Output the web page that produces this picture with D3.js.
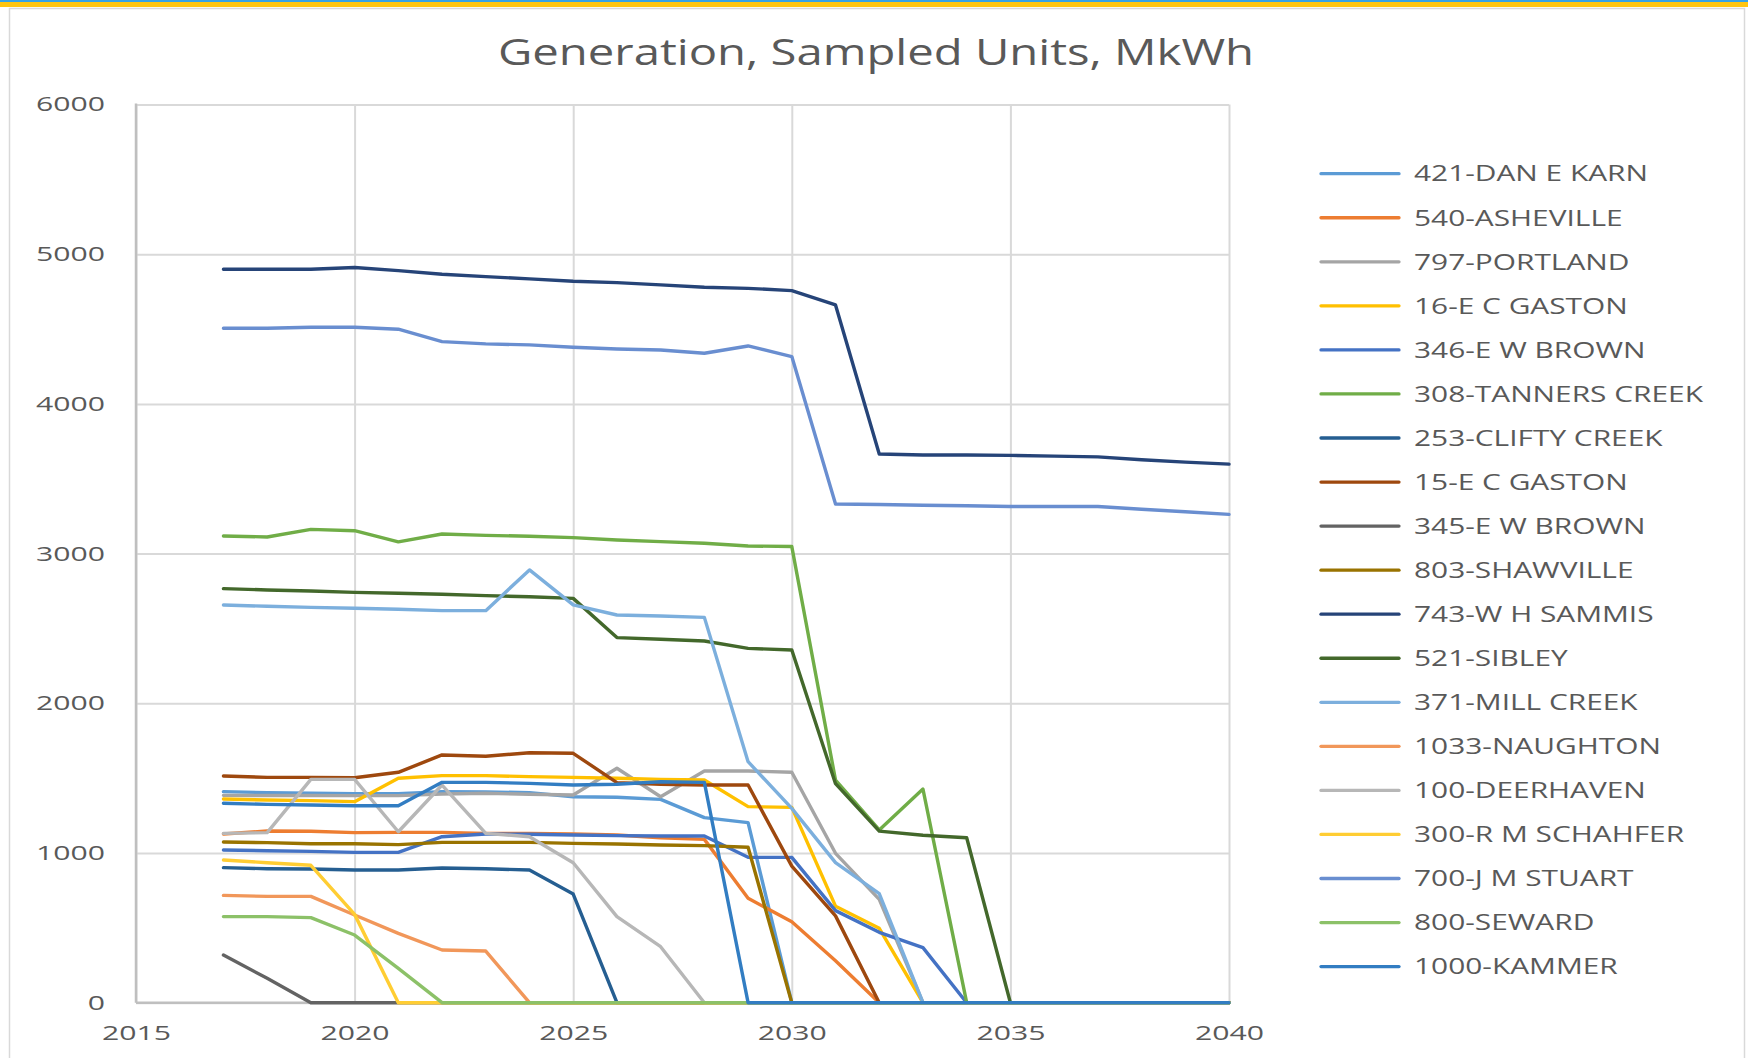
<!DOCTYPE html>
<html>
<head>
<meta charset="utf-8">
<script src="https://cdn.jsdelivr.net/npm/d3@7"></script>
<style>
  body { margin: 0; background: #fff; }
  svg { display: block; }
  text { font-family: "Open Sans", sans-serif; fill: #595959; }
</style>
</head>
<body>
<svg id="chart" width="1748" height="1058"></svg>
<script>
/* globals d3 */

const years = [2017, 2018, 2019, 2020, 2021, 2022, 2023, 2024, 2025, 2026, 2027, 2028,
  2029, 2030, 2031, 2032, 2033, 2034, 2035, 2036, 2037, 2038, 2039, 2040];
const xTicks = [2015, 2020, 2025, 2030, 2035, 2040];
const yTicks = [0, 1000, 2000, 3000, 4000, 5000, 6000];

const unitNames = [
  '421-DAN E KARN', '540-ASHEVILLE', '797-PORTLAND', '16-E C GASTON', '346-E W BROWN',
  '308-TANNERS CREEK', '253-CLIFTY CREEK', '15-E C GASTON', '345-E W BROWN', '803-SHAWVILLE',
  '743-W H SAMMIS', '521-SIBLEY', '371-MILL CREEK', '1033-NAUGHTON', '100-DEERHAVEN',
  '300-R M SCHAHFER', '700-J M STUART', '800-SEWARD', '1000-KAMMER',
];
const unitColors = [
  '#5B9BD5', '#ED7D31', '#A5A5A5', '#FFC000', '#4472C4', '#70AD47', '#255E91', '#9E480E',
  '#636363', '#997300', '#264478', '#43682B', '#7CAFDD', '#F1975A', '#B7B7B7', '#FFCD33',
  '#698ED0', '#8CC168', '#327DC2',
];

// MkWh per year, 2017 .. 2040
const danEKarn = [1410, 1403, 1399, 1396, 1396, 1410, 1408, 1403, 1376, 1372, 1358, 1236, 1203, 0, 0, 0, 0, 0, 0, 0, 0, 0, 0, 0];
const asheville = [1127, 1147, 1145, 1136, 1138, 1138, 1131, 1131, 1127, 1120, 1102, 1091, 697, 541, 280, 0, 0, 0, 0, 0, 0, 0, 0, 0];
const portland = [1385, 1384, 1384, 1383, 1383, 1394, 1399, 1392, 1387, 1566, 1376, 1548, 1548, 1539, 998, 690, 0, 0, 0, 0, 0, 0, 0, 0];
const gaston16 = [1361, 1354, 1350, 1343, 1499, 1517, 1517, 1510, 1505, 1499, 1492, 1488, 1310, 1305, 645, 497, 0, 0, 0, 0, 0, 0, 0, 0];
const ewBrown346 = [1020, 1015, 1011, 1004, 1004, 1109, 1127, 1125, 1120, 1116, 1114, 1114, 971, 971, 615, 470, 368, 0, 0, 0, 0, 0, 0, 0];
const tannersCreek = [3118, 3111, 3162, 3153, 3078, 3131, 3122, 3116, 3107, 3091, 3080, 3069, 3051, 3047, 1487, 1154, 1427, 0, 0, 0, 0, 0, 0, 0];
const cliftyCreek = [902, 895, 893, 886, 886, 900, 895, 886, 726, 0, 0, 0, 0, 0, 0, 0, 0, 0, 0, 0, 0, 0, 0, 0];
const gaston15 = [1514, 1505, 1505, 1503, 1539, 1655, 1646, 1670, 1666, 1470, 1459, 1454, 1454, 912, 580, 0, 0, 0, 0, 0, 0, 0, 0, 0];
const ewBrown345 = [318, 163, 0, 0, 0, 0, 0, 0, 0, 0, 0, 0, 0, 0, 0, 0, 0, 0, 0, 0, 0, 0, 0, 0];
const shawville = [1073, 1069, 1062, 1062, 1056, 1071, 1071, 1071, 1064, 1060, 1053, 1049, 1038, 0, 0, 0, 0, 0, 0, 0, 0, 0, 0, 0];
const sammis = [4899, 4899, 4899, 4911, 4890, 4866, 4850, 4835, 4819, 4810, 4795, 4779, 4772, 4757, 4661, 3665, 3659, 3659, 3656, 3651, 3646, 3627, 3611, 3598];
const sibley = [2766, 2757, 2750, 2741, 2735, 2728, 2719, 2712, 2701, 2439, 2428, 2416, 2367, 2356, 1463, 1146, 1119, 1102, 0, 0, 0, 0, 0, 0];
const millCreek = [2657, 2648, 2641, 2635, 2628, 2619, 2619, 2891, 2657, 2590, 2583, 2574, 1610, 1298, 936, 728, 0, 0, 0, 0, 0, 0, 0, 0];
const naughton = [717, 710, 710, 586, 463, 352, 345, 0, 0, 0, 0, 0, 0, 0, 0, 0, 0, 0, 0, 0, 0, 0, 0, 0];
const deerhaven = [1131, 1136, 1492, 1492, 1142, 1454, 1131, 1109, 935, 575, 374, 0, 0, 0, 0, 0, 0, 0, 0, 0, 0, 0, 0, 0];
const schahfer = [953, 935, 918, 590, 0, 0, 0, 0, 0, 0, 0, 0, 0, 0, 0, 0, 0, 0, 0, 0, 0, 0, 0, 0];
const stuart = [4505, 4505, 4512, 4512, 4499, 4416, 4401, 4394, 4378, 4367, 4360, 4338, 4387, 4316, 3331, 3328, 3323, 3320, 3315, 3315, 3315, 3296, 3280, 3262];
const seward = [575, 575, 568, 452, 229, 0, 0, 0, 0, 0, 0, 0, 0, 0, 0, 0, 0, 0, 0, 0, 0, 0, 0, 0];
const kammer = [1332, 1325, 1321, 1316, 1316, 1472, 1472, 1465, 1454, 1459, 1476, 1472, 0, 0, 0, 0, 0, 0, 0, 0, 0, 0, 0, 0];

const seriesValues = [
  danEKarn, asheville, portland, gaston16, ewBrown346, tannersCreek, cliftyCreek, gaston15,
  ewBrown345, shawville, sammis, sibley, millCreek, naughton, deerhaven, schahfer, stuart,
  seward, kammer,
];

const CONFIG = {
  title: 'Generation, Sampled Units, MkWh',
  plot: { left: 136, right: 1229, top: 104.5, bottom: 1002.7 },
  legend: { x: 1321, lineLength: 78, textGap: 15, top: 173.7, step: 44.05 },
  // widths of reference strings in the picture, used to stretch the text like it
  titleWidth: 756,
  tickRefWidth: 69,
  legendRefWidth: 234,
};

const stretch = (selection, refNode, refWidth) => {
  const k = refWidth / refNode.getComputedTextLength();
  selection.each(function () {
    const w = this.getComputedTextLength();
    d3.select(this).attr('textLength', w * k).attr('lengthAdjust', 'spacingAndGlyphs');
  });
};

const main = ({ title, plot, legend, titleWidth, tickRefWidth, legendRefWidth }) => {
  const svg = d3.select('#chart');
  const width = +svg.attr('width');
  const height = +svg.attr('height');

  // window frame
  svg.append('rect').attr('width', width).attr('height', height).attr('fill', '#fff');
  svg.append('rect').attr('x', 9.5).attr('y', 8.5)
    .attr('width', 1735).attr('height', height)
    .attr('fill', '#fff').attr('stroke', '#D9D9D9').attr('stroke-width', 1.5);
  svg.append('rect').attr('y', 2).attr('width', width).attr('height', 5).attr('fill', '#FFC50F');
  svg.append('rect').attr('width', width).attr('height', 2).attr('fill', '#35A2E6');

  const x = d3.scaleLinear().domain([2015, 2040]).range([plot.left, plot.right]);
  const y = d3.scaleLinear().domain([0, 6000]).range([plot.bottom, plot.top]);

  const yAxis = svg.append('g')
    .attr('transform', `translate(${plot.left},0)`)
    .call(d3.axisLeft(y).tickValues(yTicks).tickFormat(d3.format('d'))
      .tickSize(-(plot.right - plot.left)).tickPadding(31));
  const xAxis = svg.append('g')
    .attr('transform', `translate(0,${plot.bottom})`)
    .call(d3.axisBottom(x).tickValues(xTicks).tickFormat(d3.format('d'))
      .tickSize(-(plot.bottom - plot.top)).tickPadding(23.5));

  [xAxis, yAxis].forEach(g => {
    g.select('.domain').remove();
    g.selectAll('.tick line').attr('stroke', '#D9D9D9').attr('stroke-width', 2);
    g.selectAll('text').attr('font-size', 20).attr('fill', '#595959');
  });

  // axis lines
  svg.append('line')
    .attr('x1', plot.left).attr('x2', plot.left).attr('y1', plot.top - 1).attr('y2', plot.bottom)
    .attr('stroke', '#BFBFBF').attr('stroke-width', 2.5);
  svg.append('line')
    .attr('x1', plot.left).attr('x2', plot.right).attr('y1', plot.bottom).attr('y2', plot.bottom)
    .attr('stroke', '#BFBFBF').attr('stroke-width', 2.5);

  const tickRef = xAxis.selectAll('text').filter(d => d === 2020).node();
  stretch(svg.selectAll('.tick text'), tickRef, tickRefWidth);

  const line = d3.line()
    .x((d, i) => x(years[i]))
    .y(d => y(d));

  svg.append('g').attr('class', 'series')
    .selectAll('path')
    .data(seriesValues)
    .join('path')
      .attr('d', line)
      .attr('fill', 'none')
      .attr('stroke', (d, i) => unitColors[i])
      .attr('stroke-width', 3.4)
      .attr('stroke-linejoin', 'round')
      .attr('stroke-linecap', 'round');

  const titleText = svg.append('text')
    .attr('x', 876).attr('y', 65)
    .attr('text-anchor', 'middle')
    .attr('font-size', 36)
    .text(title);
  stretch(titleText, titleText.node(), titleWidth);

  const rows = svg.append('g').attr('class', 'legend')
    .selectAll('g')
    .data(unitNames)
    .join('g')
      .attr('transform', (d, i) => `translate(${legend.x},${legend.top + i * legend.step})`);
  rows.append('line')
    .attr('x2', legend.lineLength)
    .attr('stroke', (d, i) => unitColors[i])
    .attr('stroke-width', 3.3)
    .attr('stroke-linecap', 'round');
  const labels = rows.append('text')
    .attr('x', legend.lineLength + legend.textGap)
    .attr('dy', '0.36em')
    .attr('font-size', 21.5)
    .text(d => d);
  stretch(labels, labels.node(), legendRefWidth);
};

main(CONFIG);
</script>
</body>
</html>
